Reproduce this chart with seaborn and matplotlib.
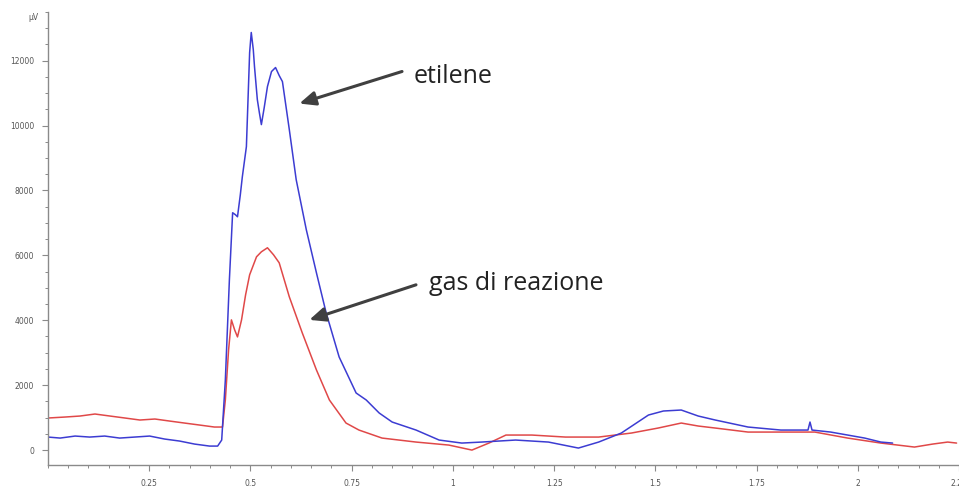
import matplotlib
matplotlib.use("Agg")
import matplotlib.pyplot as plt
from matplotlib.ticker import MultipleLocator, FixedLocator, FuncFormatter
import pandas as pd
import seaborn as sns

# Retention time (min) and detector signal (µV) for the ethylene standard
etilene_t = [0.000, 0.030, 0.067, 0.103, 0.140, 0.177, 0.214, 0.251, 0.288, 0.325,
             0.362, 0.399, 0.419, 0.429, 0.438, 0.448, 0.456, 0.463, 0.468, 0.475,
             0.480, 0.490, 0.498, 0.502, 0.507, 0.510, 0.517, 0.522, 0.527, 0.534,
             0.542, 0.552, 0.562, 0.571, 0.579, 0.596, 0.613, 0.638, 0.663, 0.687,
             0.719, 0.761, 0.786, 0.818, 0.850, 0.909, 0.966, 1.022, 1.071, 1.155,
             1.236, 1.310, 1.360, 1.416, 1.483, 1.520, 1.564, 1.606, 1.648, 1.729,
             1.810, 1.877, 1.882, 1.887, 1.933, 1.975, 2.017, 2.057, 2.086]
etilene_uv = [401, 370, 432, 401, 432, 370, 401, 432, 340, 278,
              185, 123, 123, 309, 2160, 5246, 7314, 7252, 7190, 7869,
              8425, 9351, 12251, 12869, 12344, 11819, 10801, 10400, 10030, 10554,
              11202, 11665, 11789, 11542, 11356, 9875, 8332, 6789, 5462, 4228,
              2870, 1759, 1543, 1142, 864, 617, 309, 216, 247, 309,
              247, 62, 247, 525, 1080, 1204, 1234, 1049, 926, 710,
              617, 617, 864, 617, 555, 463, 370, 247, 216]

# Retention time (min) and detector signal (µV) for the reaction gas
gas_t = [0.000, 0.042, 0.079, 0.116, 0.153, 0.190, 0.227, 0.264, 0.300, 0.337,
         0.374, 0.411, 0.431, 0.438, 0.446, 0.453, 0.461, 0.468, 0.478, 0.488,
         0.498, 0.515, 0.527, 0.542, 0.557, 0.571, 0.596, 0.628, 0.663, 0.695,
         0.736, 0.768, 0.825, 0.909, 0.990, 1.047, 1.089, 1.131, 1.195, 1.278,
         1.360, 1.441, 1.507, 1.564, 1.606, 1.648, 1.729, 1.810, 1.894, 1.975,
         2.057, 2.140, 2.185, 2.222, 2.244]
gas_uv = [988, 1018, 1049, 1111, 1049, 988, 926, 957, 895, 833,
          772, 710, 710, 1543, 3086, 4012, 3703, 3487, 4012, 4783,
          5401, 5956, 6110, 6234, 6018, 5771, 4722, 3611, 2469, 1543,
          833, 617, 370, 247, 154, 0, 216, 463, 463, 401,
          401, 525, 679, 833, 741, 679, 555, 555, 555, 370,
          216, 93, 185, 247, 216]

y_ticks = [0, 2000, 4000, 6000, 8000, 10000, 12000]
x_ticks = [0.25, 0.5, 0.75, 1, 1.25, 1.5, 1.75, 2, 2.25]

sns.set_theme(style="white")
plt.rcParams["font.family"] = ["DejaVu Sans"]

fig = plt.figure(figsize=(9.59, 4.88), dpi=100)
ax = fig.add_axes([48 / 959, 23 / 488, 1 - 48 / 959, (465 - 12) / 488])

df_e = pd.DataFrame({"t": etilene_t, "uV": etilene_uv})
df_g = pd.DataFrame({"t": gas_t, "uV": gas_uv})
sns.lineplot(data=df_g, x="t", y="uV", ax=ax, color="#e04848", lw=1.1,
             estimator=None, sort=False)
sns.lineplot(data=df_e, x="t", y="uV", ax=ax, color="#3c3cd2", lw=1.1,
             estimator=None, sort=False)

ax.set_xlim(0, 2.25)
ax.set_ylim(-460, 13500)
ax.set_xlabel("")
ax.set_ylabel("")

for side in ("top", "right"):
    ax.spines[side].set_visible(False)
for side in ("left", "bottom"):
    ax.spines[side].set_color("#8a8a8a")
    ax.spines[side].set_linewidth(1.0)

ax.xaxis.set_major_locator(FixedLocator(x_ticks))
ax.xaxis.set_minor_locator(MultipleLocator(0.05))
ax.yaxis.set_major_locator(FixedLocator(y_ticks))
ax.yaxis.set_minor_locator(MultipleLocator(500))
ax.xaxis.set_major_formatter(FuncFormatter(lambda v, p: f"{v:g}"))
ax.yaxis.set_major_formatter(FuncFormatter(lambda v, p: f"{int(v)}"))
ax.tick_params(axis="both", which="major", direction="out", length=4, width=0.8,
               color="#8a8a8a", labelsize=5.5, labelcolor="#555555", pad=6,
               left=True, bottom=True)
ax.tick_params(axis="both", which="minor", direction="out", length=2.5, width=0.7,
               color="#8a8a8a", left=True, bottom=True)

fig.text(33 / 959, 1 - 18 / 488, "µV", fontsize=5.5, color="#555555",
         ha="center", va="center")


def px(x, y):
    """Pixel position inside the plot area to data coordinates."""
    return ((x - 48) / 406, (450 - y) * 1000 / 32.4)


# Callouts pointing at the two traces
text_kw = dict(fontsize=18, color="#222222", family=["Open Sans", "DejaVu Sans"],
               va="center", ha="left")
arrow_kw = dict(arrowstyle="-|>,head_length=0.8,head_width=0.35",
                color="#404040", lw=2.2, shrinkA=0, shrinkB=0)

ax.text(*px(415, 77), "etilene", **text_kw)
ax.annotate("", xy=px(300, 104), xytext=px(403, 72), arrowprops=arrow_kw)

ax.text(*px(430, 284), "gas di reazione", **text_kw)
ax.annotate("", xy=px(310, 320), xytext=px(417, 285), arrowprops=arrow_kw)

fig.savefig("out.png", dpi=100)
